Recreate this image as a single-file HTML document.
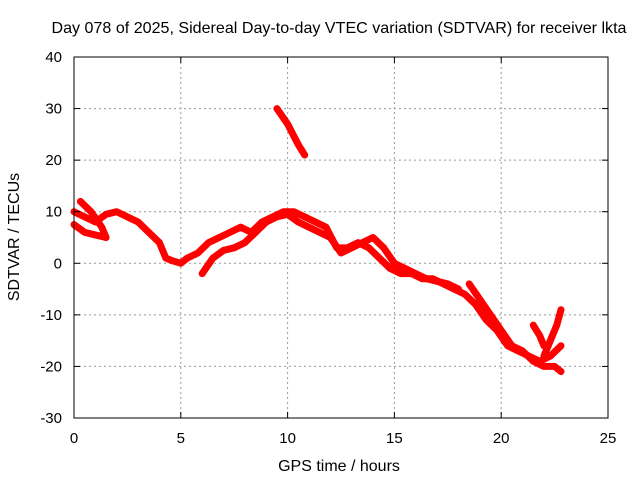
<!DOCTYPE html>
<html><head><meta charset="utf-8"><style>
body{margin:0;background:#fff}
svg{display:block;font-family:"Liberation Sans",sans-serif}
</style></head><body>
<svg id="chart" width="640" height="480">
<rect width="640" height="480" fill="#fff"/>
<g id="grid"></g>
<g id="series"></g>
<rect x="74" y="57" width="534" height="361" fill="none" stroke="#000" stroke-width="1"/>
<g id="ticks"></g>
<text x="339" y="33" text-anchor="middle" font-size="16" textLength="575" lengthAdjust="spacingAndGlyphs">Day 078 of 2025, Sidereal Day-to-day VTEC variation (SDTVAR) for receiver lkta</text>
<text x="339" y="471" text-anchor="middle" font-size="16">GPS time / hours</text>
<text x="19" y="237" text-anchor="middle" font-size="16" transform="rotate(-90 19 237)">SDTVAR / TECUs</text>
</svg>
<script>
const xTicks=[0,5,10,15,20,25];
const yTicks=[-30,-20,-10,0,10,20,30,40];
const seriesA=[[0,10],[0.5,9],[1,8],[1.5,9.5],[2,10],[2.5,9],[3,8],[3.5,6],[4,4],[4.3,1],[4.6,0.5],[5,0],[5.3,1],[5.8,2],[6.3,4],[6.8,5],[7.3,6],[7.8,7],[8.3,6],[8.8,8],[9.3,9],[9.8,10],[10.3,10],[10.8,9],[11.3,8],[11.8,7],[12.3,3],[12.8,3],[13.3,4],[13.8,3],[14.3,1],[14.8,-1],[15.3,-2],[15.8,-2],[16.3,-3],[16.8,-3],[17.3,-4],[17.8,-5],[18.3,-6],[18.8,-8],[19.3,-11],[19.8,-13],[20.3,-16],[20.8,-17],[21.3,-18],[21.8,-19],[22.3,-18],[22.8,-16]];
const seriesB=[[0,7.5],[0.5,6],[1,5.5],[1.5,5]];
const seriesC=[[6,-2],[6.5,1],[7,2.5],[7.5,3],[8,4],[8.5,6],[9,8],[9.5,9],[10,9.5],[10.5,8],[11,7],[11.5,6],[12,5],[12.5,2],[13,3],[13.5,4],[14,5],[14.5,3],[15,0],[15.5,-1],[16,-2],[16.5,-3],[17,-3.5],[17.5,-4],[18,-5]];
const seriesD=[[9.5,30],[10,27],[10.5,23],[10.8,21]];
const seriesE=[[18.5,-4],[19,-7],[19.5,-10],[20,-13],[20.5,-16],[21,-17],[21.5,-19],[22,-20],[22.5,-20],[22.8,-21]];
const seriesF=[[21.5,-12],[21.8,-14],[22,-16]];
const seriesG=[[22,-18],[22.3,-15],[22.6,-12],[22.8,-9]];
const seriesH=[[0.3,12],[0.8,10],[1.3,7],[1.5,5]];
const allSeries=[seriesA,seriesB,seriesC,seriesD,seriesE,seriesF,seriesG,seriesH];
const X=v=>74+v*(534/25);
const Y=v=>418-(v+30)*(361/70);
const NS="http://www.w3.org/2000/svg";
const grid=document.getElementById('grid'),ticks=document.getElementById('ticks'),sg=document.getElementById('series');
function mk(t,a,p){const e=document.createElementNS(NS,t);for(const k in a)e.setAttribute(k,a[k]);p.appendChild(e);return e;}
xTicks.forEach(v=>{
 if(v>0&&v<25){const g=mk('line',{x1:X(v),x2:X(v),y1:57,y2:418,stroke:'#999','stroke-dasharray':'2,3'},grid);
 
 }
 mk('line',{x1:X(v),x2:X(v),y1:418,y2:412,stroke:'#000'},ticks);
 mk('line',{x1:X(v),x2:X(v),y1:57,y2:63,stroke:'#000'},ticks);
 const t=mk('text',{x:X(v),y:443,'text-anchor':'middle','font-size':15},ticks);t.textContent=v;
 
 
});
yTicks.forEach(v=>{
 if(v>-30&&v<40){const g=mk('line',{x1:74,x2:608,y1:Y(v),y2:Y(v),stroke:'#999','stroke-dasharray':'2,3'},grid);
 
 }
 mk('line',{x1:74,x2:80,y1:Y(v),y2:Y(v),stroke:'#000'},ticks);
 mk('line',{x1:608,x2:602,y1:Y(v),y2:Y(v),stroke:'#000'},ticks);
 const t=mk('text',{x:62,y:Y(v)+5,'text-anchor':'end','font-size':15},ticks);t.textContent=v;
 
 
});
allSeries.forEach((s,i)=>{
 const p=mk('polyline',{points:s.map(d=>X(d[0])+','+Y(d[1])).join(' '),fill:'none',stroke:'#f00','stroke-width':7,'stroke-linejoin':'round','stroke-linecap':'round'},sg);
 
 
});
</script>
</body></html>
